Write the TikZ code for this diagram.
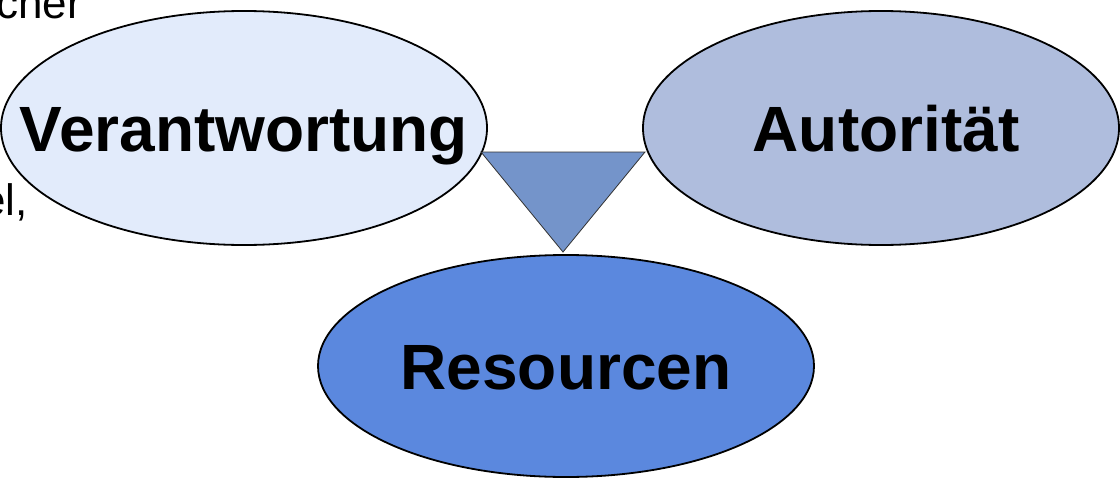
\documentclass[tikz,border=0pt]{standalone}
\usepackage{fontspec}
\setmainfont{Liberation Sans}
\usepackage{tikz}
\usetikzlibrary{shapes,positioning}

\definecolor{verantfill}{HTML}{E2EBFB}
\definecolor{autorfill}{HTML}{AFBDDD}
\definecolor{resfill}{HTML}{5B88DE}
\definecolor{trifill}{HTML}{7494CA}

\begin{document}
\begin{tikzpicture}[x=1pt,y=-1pt,
  oval/.style={ellipse,draw=black,line width=1.8pt,inner sep=0pt},
  ovaltext/.style={inner sep=0pt,font=\bfseries\fontsize{64}{70}\selectfont,
    text height=46pt,text depth=0pt},
  frag/.style={inner sep=0pt,font=\fontsize{44}{48}\selectfont}]
\useasboundingbox (0,0) rectangle (1120,479);

% text behind the ovals
\node[frag,anchor=base west] (cher) at (-4,18) {cher};
\node[frag,anchor=base east] (el) at (28,215) {el,};

\node[oval,fill=verantfill,minimum width=486pt,minimum height=234pt] (verant) at (244,128) {};
\node[oval,fill=autorfill,minimum width=476pt,minimum height=234pt] (autor) at (881,128) {};
\node[oval,fill=resfill,minimum width=496pt,minimum height=222pt] (res) at (566,366) {};

\node[ovaltext] (verantTxt) at (verant) {Verantwortung};
\node[ovaltext,xshift=5pt] (autorTxt) at (autor) {Autorit\"at};
\node[ovaltext] (resTxt) at (res) {Resourcen};

\coordinate (triL) at (481,152);
\coordinate (triR) at (645,152);
\coordinate (triB) at (563,252);
\filldraw[fill=trifill,draw=black!80,line width=0.8pt,line join=miter] (triL) -- (triR) -- (triB) -- cycle;

\end{tikzpicture}
\end{document}
